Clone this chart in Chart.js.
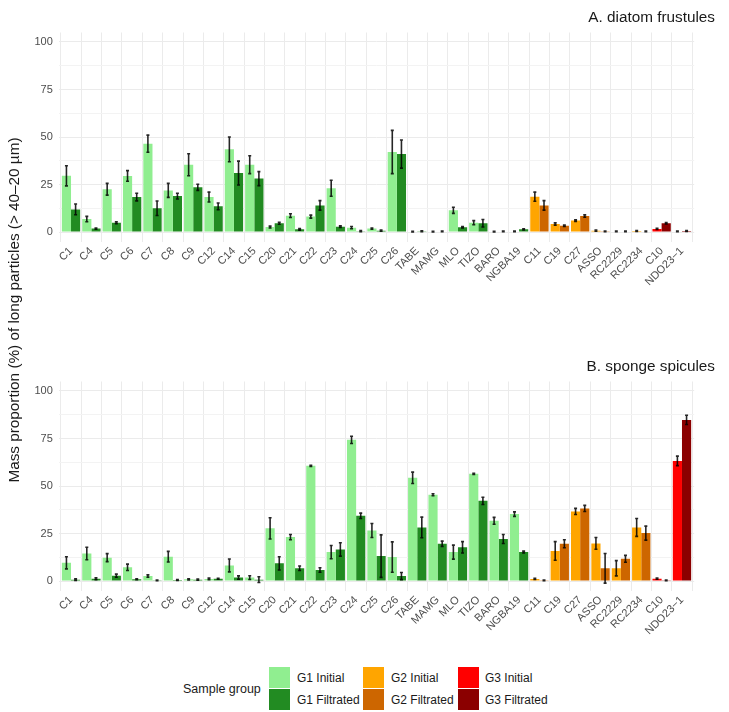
<!DOCTYPE html>
<html>
<head>
<meta charset="utf-8">
<script src="https://cdn.jsdelivr.net/npm/chart.js@4.4.0/dist/chart.umd.min.js"></script>
<style>
  html, body { margin:0; padding:0; background:#ffffff; }
  body { width:729px; height:712px; overflow:hidden; position:relative; font-family:"Liberation Sans", Arial, sans-serif; color:#1a1a1a; }
  canvas { position:absolute; left:0; }
  .txt { position:absolute; white-space:nowrap; }
  .sw { position:absolute; width:20.5px; height:21px; }
</style>
</head>
<body>
<canvas id="chartA" width="729" height="330" style="top:0px"></canvas>
<canvas id="chartB" width="729" height="320" style="top:340px"></canvas>

<div class="txt" style="right:14px; top:6.5px; font-size:15.3px; line-height:19px;">A. diatom frustules</div>
<div class="txt" style="right:14px; top:355.5px; font-size:15.3px; line-height:19px;">B. sponge spicules</div>
<div class="txt" style="left:-186px; top:300px; width:400px; height:20px; line-height:20px; text-align:center; font-size:15.3px; transform:rotate(-90deg);">Mass proportion (%) of long particles (&gt; 40&#8211;20 µm)</div>

<div id="legend"></div>

<script>
// ---------------- DATA ----------------
const categories = ["C1","C4","C5","C6","C7","C8","C9","C12","C14","C15","C20","C21","C22","C23","C24","C25","C26","TABE","MAMG","MLO","TIZO","BARO","NGBA19","C11","C19","C27","ASSO","RC2229","RC2234","C10","NDO23\u22121"];
const groups = ["G1","G1","G1","G1","G1","G1","G1","G1","G1","G1","G1","G1","G1","G1","G1","G1","G1","G1","G1","G1","G1","G1","G1","G2","G2","G2","G2","G2","G2","G3","G3"];

const yTickValues = [0, 25, 50, 75, 100];
const yMinorValues = [12.5, 37.5, 62.5, 87.5];

// A. diatom frustules
const diatomInitial     = [29.6, 6.8, 22.5, 29.5, 46.5, 21.9, 35.4, 18.4, 43.5, 35.4, 2.6, 8.6, 8.1, 23.0, 2.3, 1.8, 42.1, 0.2, 0.2, 11.4, 4.9, 0.2, 0.3, 18.6, 4.2, 6.0, 0.7, 0.3, 0.5, 1.6, 0.3];
const diatomInitialErr  = [5.3, 1.4, 3.1, 2.8, 4.5, 3.7, 5.8, 2.6, 6.5, 4.7, 0.5, 1.0, 0.8, 4.2, 0.6, 0.3, 11.4, 0.2, 0.2, 1.6, 1.1, 0.2, 0.2, 2.4, 0.6, 0.4, 0.3, 0.2, 0.2, 0.3, 0.2];
const diatomFiltrated   = [11.9, 1.8, 4.9, 18.4, 12.5, 18.9, 23.5, 13.5, 31.0, 28.1, 4.6, 1.4, 14.0, 2.8, 0.4, 0.7, 41.0, 0.4, 0.3, 2.5, 4.6, 0.3, 1.4, 14.0, 3.3, 8.4, 0.35, 0.3, 0.3, 4.6, 0.5];
const diatomFiltratedErr= [2.8, 0.3, 0.5, 2.0, 3.8, 1.5, 1.6, 1.8, 6.3, 3.7, 0.5, 0.4, 2.5, 0.4, 0.3, 0.3, 7.4, 0.2, 0.2, 0.4, 2.0, 0.2, 0.3, 2.5, 0.4, 0.6, 0.2, 0.2, 0.2, 0.4, 0.2];

// B. sponge spicules
const spongeInitial     = [9.6, 14.5, 12.3, 7.2, 2.6, 12.8, 0.9, 1.1, 8.2, 1.8, 27.7, 23.1, 60.6, 15.2, 74.3, 26.6, 12.6, 54.3, 45.4, 15.2, 56.4, 31.7, 35.2, 1.1, 15.8, 36.6, 19.8, 6.7, 28.2, 1.2, 63.2];
const spongeInitialErr  = [3.2, 3.3, 2.1, 1.7, 0.6, 2.8, 0.3, 0.4, 3.4, 1.0, 5.6, 1.4, 0.3, 3.5, 1.9, 3.7, 8.0, 3.0, 0.5, 3.7, 0.3, 1.8, 1.2, 0.3, 4.9, 1.6, 3.1, 4.0, 4.7, 0.3, 2.5];
const spongeFiltrated   = [0.7, 1.2, 2.8, 0.9, 0.35, 0.5, 0.7, 1.2, 1.8, 0.7, 9.3, 6.7, 5.8, 16.6, 34.3, 13.1, 2.6, 28.2, 19.6, 17.7, 42.2, 22.1, 15.2, 0.35, 19.6, 38.2, 6.7, 11.7, 25.2, 0.35, 84.8];
const spongeFiltratedErr= [0.4, 0.5, 0.8, 0.2, 0.2, 0.2, 0.3, 0.2, 0.9, 1.5, 3.5, 1.2, 1.2, 3.5, 1.4, 11.2, 1.9, 5.4, 1.4, 3.0, 1.9, 2.4, 0.5, 0.2, 2.1, 1.6, 7.8, 1.8, 3.7, 0.2, 2.4];

const legendGroups = ["G1", "G2", "G3"];
const legendLabels = ["G1 Initial", "G1 Filtrated", "G2 Initial", "G2 Filtrated", "G3 Initial", "G3 Filtrated"];

// ---------------- STYLE ----------------
const initialColors   = { G1:"#90EE90", G2:"#FFA500", G3:"#FF0000" };
const filtratedColors = { G1:"#228B22", G2:"#CD6600", G3:"#8B0000" };
const FONT = "'Liberation Sans', Arial, sans-serif";

const errorBarPlugin = {
  id: "errorBars",
  afterDatasetsDraw(chart) {
    const ctx = chart.ctx;
    const yScale = chart.scales.y;
    const area = chart.chartArea;
    ctx.save();
    ctx.beginPath();
    ctx.rect(area.left, area.top, area.right - area.left, area.bottom - area.top);
    ctx.clip();
    ctx.strokeStyle = "rgba(0,0,0,0.85)";
    ctx.lineWidth = 1.6;
    chart.data.datasets.forEach((ds, d) => {
      const meta = chart.getDatasetMeta(d);
      meta.data.forEach((el, i) => {
        const v = ds.data[i].y, e = ds.errors[i];
        const yt = yScale.getPixelForValue(v + e);
        const yb = yScale.getPixelForValue(v - e);
        ctx.beginPath();
        ctx.moveTo(el.x, yt); ctx.lineTo(el.x, yb);
        ctx.moveTo(el.x - 1.5, yt); ctx.lineTo(el.x + 1.5, yt);
        ctx.moveTo(el.x - 1.5, yb); ctx.lineTo(el.x + 1.5, yb);
        ctx.stroke();
      });
    });
    ctx.restore();
  }
};

function makeChart(id, initVals, initErr, filtVals, filtErr, topPad, xAxisHeight) {
  const allY = yTickValues.concat(yMinorValues).sort((a, b) => a - b);
  return new Chart(document.getElementById(id), {
    type: "bar",
    data: {
      datasets: [
        {
          label: "Initial",
          data: initVals.map((v, i) => ({ x: i, y: v })),
          errors: initErr,
          backgroundColor: groups.map(g => initialColors[g]),
          borderWidth: 0,
          categoryPercentage: 0.9,
          barPercentage: 1.0
        },
        {
          label: "Filtrated",
          data: filtVals.map((v, i) => ({ x: i, y: v })),
          errors: filtErr,
          backgroundColor: groups.map(g => filtratedColors[g]),
          borderWidth: 0,
          categoryPercentage: 0.9,
          barPercentage: 1.0
        }
      ]
    },
    options: {
      responsive: false,
      animation: false,
      devicePixelRatio: 1,
      layout: { padding: { top: topPad, right: 34.8, left: 0, bottom: 0 } },
      plugins: { legend: { display: false }, tooltip: { enabled: false }, title: { display: false } },
      scales: {
        x: {
          type: "linear",
          min: -0.6,
          max: categories.length - 1 + 0.6,
          offset: false,
          afterBuildTicks: s => { s.ticks = categories.map((c, i) => ({ value: i })); },
          afterFit: s => { s.height = xAxisHeight; },
          ticks: {
            autoSkip: false, maxRotation: 45, minRotation: 45, padding: 3,
            color: "#4D4D4D", font: { size: 11, family: FONT },
            callback: v => categories[v]
          },
          grid: { color: "#EBEBEB", lineWidth: 1, drawTicks: false },
          border: { display: false }
        },
        y: {
          min: -5,
          max: 105,
          afterBuildTicks: s => { s.ticks = allY.map(v => ({ value: v })); },
          afterFit: s => { s.width = 58.8; },
          ticks: {
            autoSkip: false, padding: 6,
            color: "#4D4D4D", font: { size: 11, family: FONT },
            callback: v => (yTickValues.includes(v) ? String(v) : "")
          },
          grid: {
            color: c => (c.tick && yTickValues.includes(c.tick.value) ? "#EBEBEB" : "#F3F3F3"),
            lineWidth: 1,
            drawTicks: false
          },
          border: { display: false }
        }
      }
    },
    plugins: [errorBarPlugin]
  });
}

makeChart("chartA", diatomInitial, diatomInitialErr, diatomFiltrated, diatomFiltratedErr, 32.5, 88.5);
makeChart("chartB", spongeInitial, spongeInitialErr, spongeFiltrated, spongeFiltratedErr, 41.5, 69.5);

// ---------------- LEGEND (HTML) ----------------
(function () {
  const lg = document.getElementById("legend");
  let html = '<div class="txt" style="left:183px; top:681px; font-size:12.5px; line-height:16px;">Sample group</div>';
  const swX = [269, 363, 458];
  const lbX = [297, 391, 485];
  legendGroups.forEach((g, k) => {
    html += '<div class="sw" style="left:' + swX[k] + 'px; top:667px; background:' + initialColors[g] + ';"></div>';
    html += '<div class="sw" style="left:' + swX[k] + 'px; top:689px; background:' + filtratedColors[g] + ';"></div>';
    html += '<div class="txt" style="left:' + lbX[k] + 'px; top:670px; font-size:12px; line-height:16px;">' + legendLabels[2 * k] + '</div>';
    html += '<div class="txt" style="left:' + lbX[k] + 'px; top:692px; font-size:12px; line-height:16px;">' + legendLabels[2 * k + 1] + '</div>';
  });
  lg.innerHTML = html;
})();
</script>
</body>
</html>
